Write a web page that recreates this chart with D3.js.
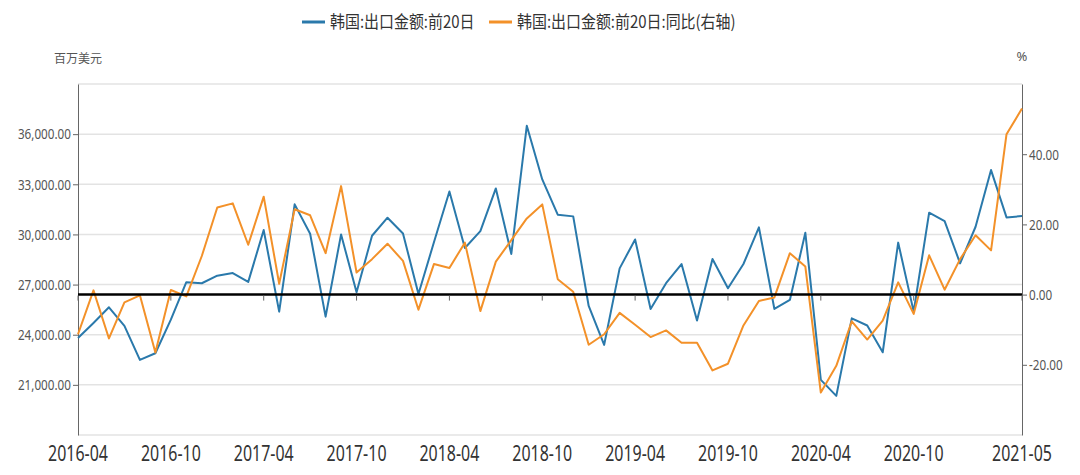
<!DOCTYPE html>
<html>
<head>
<meta charset="utf-8">
<script src="https://cdn.jsdelivr.net/npm/d3@7"></script>
<style>
  body { margin: 0; background: #fff; }
  svg { display: block; }
</style>
</head>
<body>
<div id="chart"></div>
<script>
// months on the x axis
const months = [
  "2016-04","2016-05","2016-06","2016-07","2016-08","2016-09","2016-10","2016-11","2016-12",
  "2017-01","2017-02","2017-03","2017-04","2017-05","2017-06","2017-07","2017-08","2017-09","2017-10","2017-11","2017-12",
  "2018-01","2018-02","2018-03","2018-04","2018-05","2018-06","2018-07","2018-08","2018-09","2018-10","2018-11","2018-12",
  "2019-01","2019-02","2019-03","2019-04","2019-05","2019-06","2019-07","2019-08","2019-09","2019-10","2019-11","2019-12",
  "2020-01","2020-02","2020-03","2020-04","2020-05","2020-06","2020-07","2020-08","2020-09","2020-10","2020-11","2020-12",
  "2021-01","2021-02","2021-03","2021-04","2021-05"
];

// 韩国:出口金额:前20日 (百万美元)
const exportValue = [
  23800, 24700, 25640, 24530, 22490, 22890, 24900, 27140, 27080,
  27530, 27690, 27160, 30260, 25380, 31800, 30040, 25080, 30000, 26540, 29920, 31000,
  30060, 26440, 29530, 32570, 29190, 30200, 32750, 28830, 36500, 33290, 31180, 31080,
  25720, 23390, 27970, 29700, 25540, 27080, 28230, 24850, 28530, 26780, 28230, 30420,
  25540, 26080, 30100, 21300, 20340, 24980, 24550, 22950, 29510, 25380, 31300, 30800,
  28270, 30460, 33850, 31020, 31100
];

// 韩国:出口金额:前20日:同比 (%, right axis)
const exportYoy = [
  -11.3, 1.2, -12.5, -2.2, -0.2, -16.5, 1.3, -0.5, 11.0,
  24.8, 26.0, 14.2, 27.9, 3.1, 24.3, 22.6, 11.8, 30.9, 6.3, 10.1, 14.5,
  9.6, -4.3, 8.7, 7.6, 14.8, -4.7, 9.4, 15.5, 21.7, 25.7, 4.4, 0.8,
  -14.3, -11.3, -5.2, -8.6, -12.1, -10.2, -13.7, -13.7, -21.6, -19.7, -8.8, -1.8,
  -0.8, 11.8, 8.0, -27.9, -20.3, -7.6, -12.8, -7.4, 3.5, -5.5, 11.2, 1.4,
  10.1, 16.9, 12.6, 45.7, 53.0
];

const xLabels = ["2016-04","2016-10","2017-04","2017-10","2018-04","2018-10","2019-04","2019-10","2020-04","2020-10","2021-05"];
const leftGrid = [18000, 21000, 24000, 27000, 30000, 33000, 36000, 39000];
const leftTicks = [21000, 24000, 27000, 30000, 33000, 36000];
const rightTicks = [-20, 0, 20, 40];

const seriesNames = ["韩国:出口金额:前20日", "韩国:出口金额:前20日:同比(右轴)"];
const colors = ["#2a79ab", "#f39129"];

const width = 1080, height = 475;
const plot = {left: 78, right: 1022, top: 84, bottom: 435};
const numFont = "'Noto Sans', 'Open Sans', sans-serif";
const cjkFont = "'Noto Sans CJK SC', sans-serif";
const squeeze = 0.78; // digits in the picture are narrow

const x = d3.scalePoint().domain(months).range([plot.left, plot.right]);
const yL = d3.scaleLinear().domain([18000, 39000]).range([plot.bottom, plot.top]);
const yR = d3.scaleLinear().domain([-40, 60]).range([plot.bottom, plot.top]);

const svg = d3.select("#chart").append("svg")
  .attr("width", width)
  .attr("height", height);

// grid
svg.append("g")
  .selectAll("line")
  .data(leftGrid)
  .join("line")
  .attr("x1", plot.left)
  .attr("x2", plot.right)
  .attr("y1", d => yL(d))
  .attr("y2", d => yL(d))
  .attr("stroke", "#e3e3e3")
  .attr("stroke-width", 1.5);

// left axis
const gl = svg.append("g")
  .attr("transform", `translate(${plot.left},0)`)
  .call(d3.axisLeft(yL).tickValues(leftTicks).tickFormat(d3.format(",.2f")).tickSize(5).tickSizeOuter(0).tickPadding(4));
gl.select(".domain").attr("stroke", "#666");
gl.selectAll(".tick line").attr("stroke", "#666");
gl.selectAll("text")
  .attr("font-family", numFont)
  .attr("font-size", 15)
  .attr("fill", "#555")
  .attr("transform", `scale(${squeeze},1)`);

// right axis
const gr = svg.append("g")
  .attr("transform", `translate(${plot.right},0)`)
  .call(d3.axisRight(yR).tickValues(rightTicks).tickFormat(d => d.toFixed(2)).tickSize(5).tickSizeOuter(0).tickPadding(4));
gr.select(".domain").attr("stroke", "#666");
gr.selectAll(".tick line").attr("stroke", "#666");
gr.selectAll("text")
  .attr("font-family", numFont)
  .attr("font-size", 15)
  .attr("fill", "#555")
  .attr("transform", `scale(${squeeze},1)`);

// axis names
svg.append("text")
  .attr("x", plot.left).attr("y", 63)
  .attr("text-anchor", "middle")
  .attr("font-family", cjkFont).attr("font-size", 12).attr("fill", "#555")
  .text("百万美元");
svg.append("text")
  .attr("x", plot.right).attr("y", 61)
  .attr("text-anchor", "middle")
  .attr("font-family", numFont).attr("font-size", 13).attr("fill", "#555")
  .text("%");

// series
const lineL = d3.line().x((d, i) => x(months[i])).y(d => yL(d));
const lineR = d3.line().x((d, i) => x(months[i])).y(d => yR(d));

svg.append("path")
  .datum(exportValue)
  .attr("d", lineL)
  .attr("fill", "none")
  .attr("stroke", colors[0])
  .attr("stroke-width", 2)
  .attr("stroke-linejoin", "round");

svg.append("path")
  .datum(exportYoy)
  .attr("d", lineR)
  .attr("fill", "none")
  .attr("stroke", colors[1])
  .attr("stroke-width", 2)
  .attr("stroke-linejoin", "round");

// x axis sits on the right axis zero
const zeroY = yR(0);
svg.append("line")
  .attr("x1", plot.left).attr("x2", plot.right)
  .attr("y1", zeroY).attr("y2", zeroY)
  .attr("stroke", "#000")
  .attr("stroke-width", 2.5);

svg.append("g")
  .selectAll("line")
  .data(xLabels)
  .join("line")
  .attr("x1", d => x(d)).attr("x2", d => x(d))
  .attr("y1", zeroY + 1).attr("y2", zeroY + 6)
  .attr("stroke", "#666");

svg.append("g")
  .selectAll("text")
  .data(xLabels)
  .join("text")
  .attr("transform", d => `translate(${x(d)},461) scale(0.76,1)`)
  .attr("text-anchor", "middle")
  .attr("font-family", numFont)
  .attr("font-size", 21)
  .attr("fill", "#333")
  .text(d => d);

// legend
const legendX = [302, 489];
const lg = svg.append("g")
  .selectAll("g")
  .data(seriesNames)
  .join("g")
  .attr("transform", (d, i) => `translate(${legendX[i]},22)`);
lg.append("line")
  .attr("x1", 0).attr("x2", 23)
  .attr("stroke", (d, i) => colors[i])
  .attr("stroke-width", 3);
lg.append("text")
  .attr("transform", "translate(28,6) scale(0.88,1)")
  .attr("font-family", cjkFont)
  .attr("font-size", 17)
  .attr("fill", "#333")
  .text(d => d);
</script>
</body>
</html>
